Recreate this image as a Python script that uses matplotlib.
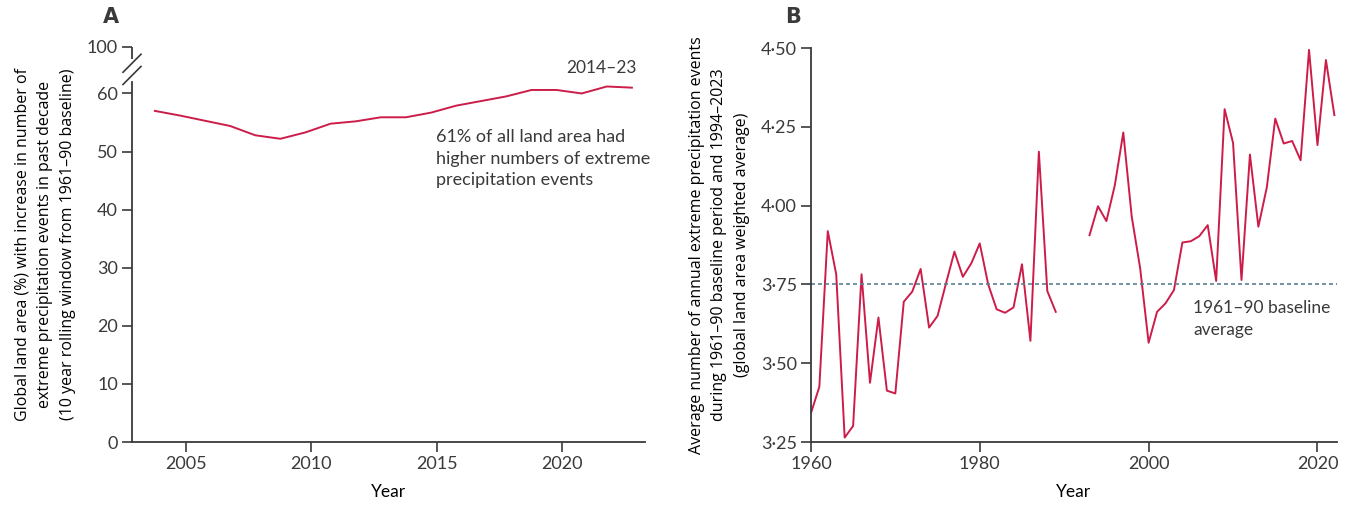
import numpy as np
import matplotlib
matplotlib.use("Agg")
import matplotlib.pyplot as plt
import matplotlib.transforms as mtrans

# Panel A: share of land area with more extreme precipitation events (10-year rolling window)
years_a = np.arange(2004, 2024)
share_a = [57.0, 56.2, 55.3, 54.4, 52.8, 52.2, 53.3, 54.8, 55.2, 55.9,
           55.9, 56.7, 57.9, 58.7, 59.5, 60.6, 60.6, 60.0, 61.2, 61.0]
xticks_a = [2005, 2010, 2015, 2020]
yticks_a = [0, 10, 20, 30, 40, 50, 60]

# Panel B: average annual extreme precipitation events (nan = gap 1990-92)
years_b = np.arange(1960, 2023)
events_b = [3.341, 3.425, 3.919, 3.782, 3.264, 3.301, 3.782, 3.438, 3.645, 3.413,
            3.404, 3.695, 3.727, 3.799, 3.613, 3.650, 3.753, 3.854, 3.774, 3.817,
            3.880, 3.750, 3.671, 3.660, 3.677, 3.814, 3.571, 4.171, 3.729, 3.663,
            np.nan, np.nan, np.nan,
            3.906, 3.998, 3.951, 4.065, 4.232, 3.965, 3.801,
            3.565, 3.663, 3.690, 3.732, 3.883, 3.887, 3.903, 3.938, 3.761, 4.306,
            4.199, 3.764, 4.162, 3.933, 4.058, 4.276, 4.197, 4.205, 4.144, 4.494,
            4.192, 4.462, 4.287]
baseline_b = 3.75
xticks_b = [1960, 1980, 2000, 2020]
yticks_b = [3.25, 3.50, 3.75, 4.00, 4.25, 4.50]

RED = "#cc1d4a"
DARK = "#3a3a3a"
TEAL = "#5a8290"
narrow = ["Lato", "DejaVu Sans"]
plain = ["Open Sans", "DejaVu Sans"]
TICK_FS = 13

plt.rcParams["font.family"] = plain
plt.rcParams["text.color"] = DARK
plt.rcParams["axes.edgecolor"] = DARK
plt.rcParams["xtick.color"] = DARK
plt.rcParams["ytick.color"] = DARK

fig = plt.figure(figsize=(13.47, 5.08), dpi=100)
axA = fig.add_axes([0.098, 0.1299, 0.381, 0.7776])
axB = fig.add_axes([0.602, 0.1299, 0.3905, 0.7756])

for ax in (axA, axB):
    ax.spines[["top", "right"]].set_visible(False)
    ax.spines[["left", "bottom"]].set_linewidth(1.3)
    ax.tick_params(direction="out", length=7, width=1.2, pad=3)

# ---- Panel A
axA.plot(years_a, share_a, color=RED, lw=1.4)
axA.set_xlim(2003.09, 2023.53)
axA.set_ylim(0, 68)
axA.set_xticks([t + 0.23 for t in xticks_a])
axA.set_xticklabels([str(t) for t in xticks_a], family=narrow, fontsize=TICK_FS)
axA.set_yticks(yticks_a + [68])
axA.set_yticklabels([str(t) for t in yticks_a] + ["100"], family=narrow, fontsize=TICK_FS)
axA.spines["left"].set_bounds(0, 62.0)
# broken axis marks
tr = mtrans.blended_transform_factory(axA.transAxes, axA.transData)
axA.plot([0, 0], [66.0, 68], transform=tr, color=DARK, lw=1.3, clip_on=False,
         solid_capstyle="butt")
for yb in (65.2, 63.1):
    axA.plot([-0.0175, 0.0175], [yb - 1.55, yb + 1.55], transform=tr, color=DARK,
             lw=1.2, clip_on=False)

axA.text(2023.2, 64.4, "2014–23", ha="right", va="center", fontsize=12.5, family=narrow)
axA.text(2015.2, 48.8, "61% of all land area had\nhigher numbers of extreme\nprecipitation events",
         ha="left", va="center", fontsize=13, family=narrow, linespacing=1.45)
axA.set_xlabel("Year", fontsize=12.5, family=narrow, labelpad=9)
axA.set_ylabel("Global land area (%) with increase in number of\n"
               "extreme precipitation events in past decade\n"
               "(10 year rolling window from 1961–90 baseline)",
               fontsize=11.5, linespacing=1.55, labelpad=8)
fig.text(0.0765, 0.966, "A", fontsize=15, fontweight="bold", va="center", ha="left",
         family=["DejaVu Sans"])

# ---- Panel B
axB.plot(years_b, events_b, color=RED, lw=1.4)
axB.axhline(baseline_b, color=TEAL, lw=1.2, ls=(0, (2.4, 1.8)))
axB.set_xlim(1960, 2022.3)
axB.set_ylim(3.25, 4.5)
axB.set_xticks(xticks_b)
axB.set_xticklabels([str(t) for t in xticks_b], family=narrow, fontsize=TICK_FS)
axB.set_yticks(yticks_b)
axB.set_yticklabels([f"{v:.2f}".replace(".", "·") for v in yticks_b], family=narrow,
                    fontsize=TICK_FS)
axB.text(2005.3, 3.64, "1961–90 baseline\naverage", ha="left", va="center",
         fontsize=12.5, family=narrow, linespacing=1.5)
axB.set_xlabel("Year", fontsize=12.5, family=narrow, labelpad=9)
axB.set_ylabel("Average number of annual extreme precipitation events\n"
               "during 1961–90 baseline period and 1994–2023\n"
               "(global land area weighted average)",
               fontsize=11.5, linespacing=1.55, labelpad=8)
fig.text(0.583, 0.966, "B", fontsize=15, fontweight="bold", va="center", ha="left",
         family=["DejaVu Sans"])

fig.savefig("out.png", dpi=100)
